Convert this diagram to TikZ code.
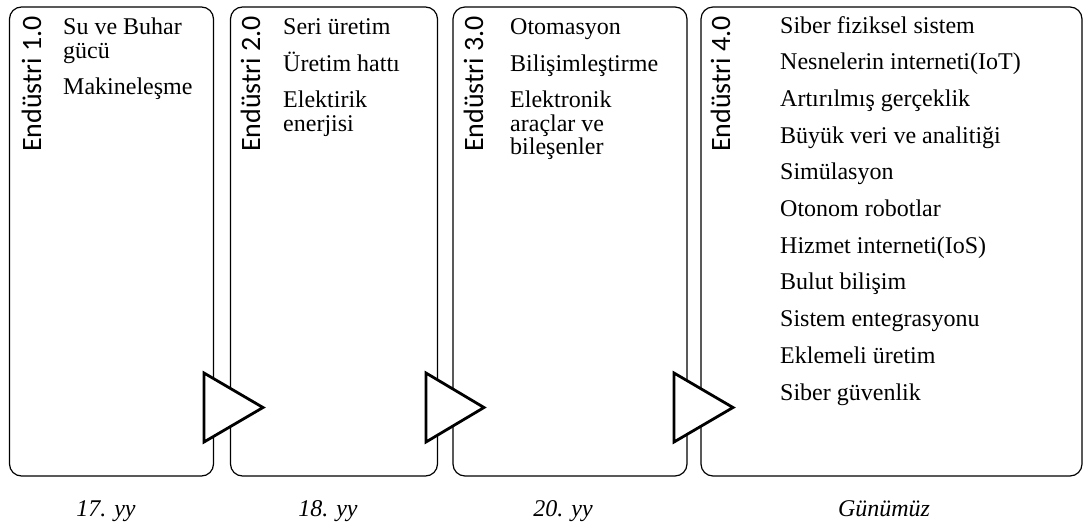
\documentclass[tikz,border=0pt]{standalone}
\usepackage{fontspec}
\setmainfont{Liberation Serif}
\newfontfamily\labfont{Carlito}
\begin{document}
\begin{tikzpicture}[x=1pt,y=-1pt,
  box/.style={draw, line width=1.2pt, rounded corners=12pt, inner sep=0pt},
  tri/.style={draw, fill=white, line width=2.8pt, line join=miter},
  item/.style={anchor=base west, inner sep=0pt, font=\fontsize{24}{24}\selectfont},
  lab/.style={rotate=90, anchor=base west, inner sep=0pt, font=\labfont\fontsize{28}{28}\selectfont},
  era/.style={anchor=base, inner sep=0pt, font=\fontsize{24}{24}\selectfont\itshape}]
\useasboundingbox (0,0) rectangle (1084,528);
% boxes
\node[box, minimum width=204pt, minimum height=469pt] (b1) at (111.5,241.5) {};
\node[box, minimum width=207pt, minimum height=469pt] (b2) at (334,241.5) {};
\node[box, minimum width=234pt, minimum height=469pt] (b3) at (570,241.5) {};
\node[box, minimum width=381pt, minimum height=469pt] (b4) at (891.5,241.5) {};
% triangles
\draw[tri] (204,373) -- (204,442) -- (263,407.5) -- cycle;
\draw[tri] (426,373) -- (426,442) -- (484,407.5) -- cycle;
\draw[tri] (674,373) -- (674,442) -- (733,407.5) -- cycle;
% vertical labels
\node[lab] (l1) at (41,152) {Endüstri 1.0};
\node[lab] (l2) at (260,152) {Endüstri 2.0};
\node[lab] (l3) at (483,152) {Endüstri 3.0};
\node[lab] (l4) at (730,152) {Endüstri 4.0};
% box 1
\node[item] (t11) at (63,34.5) {Su ve Buhar};
\node[item] (t12) at (63,58) {gücü};
\node[item] (t13) at (63,94.5) {Makineleşme};
% box 2
\node[item] (t21) at (283,34.5) {Seri üretim};
\node[item] (t22) at (283,71) {Üretim hattı};
\node[item] (t23) at (283,107.5) {Elektirik};
\node[item] (t24) at (283,131) {enerjisi};
% box 3
\node[item] (t31) at (510,34.5) {Otomasyon};
\node[item] (t32) at (510,71) {Bilişimleştirme};
\node[item] (t33) at (510,107.5) {Elektronik};
\node[item] (t34) at (510,131) {araçlar ve};
\node[item] (t35) at (510,154.5) {bileşenler};
% box 4
\foreach \txt [count=\i from 0] in {Siber fiziksel sistem, Nesnelerin interneti(IoT), Artırılmış gerçeklik, Büyük veri ve analitiği, Simülasyon, Otonom robotlar, Hizmet interneti(IoS), Bulut bilişim, Sistem entegrasyonu, Eklemeli üretim, Siber güvenlik}
  \node[item] (t4\i) at (780,33+36.7*\i) {\txt};
% eras
\node[era] (e1) at (106,516) {17. yy};
\node[era] (e2) at (328,516) {18. yy};
\node[era] (e3) at (563,516) {20. yy};
\node[era] (e4) at (884,516) {Günümüz};
\end{tikzpicture}
\end{document}
